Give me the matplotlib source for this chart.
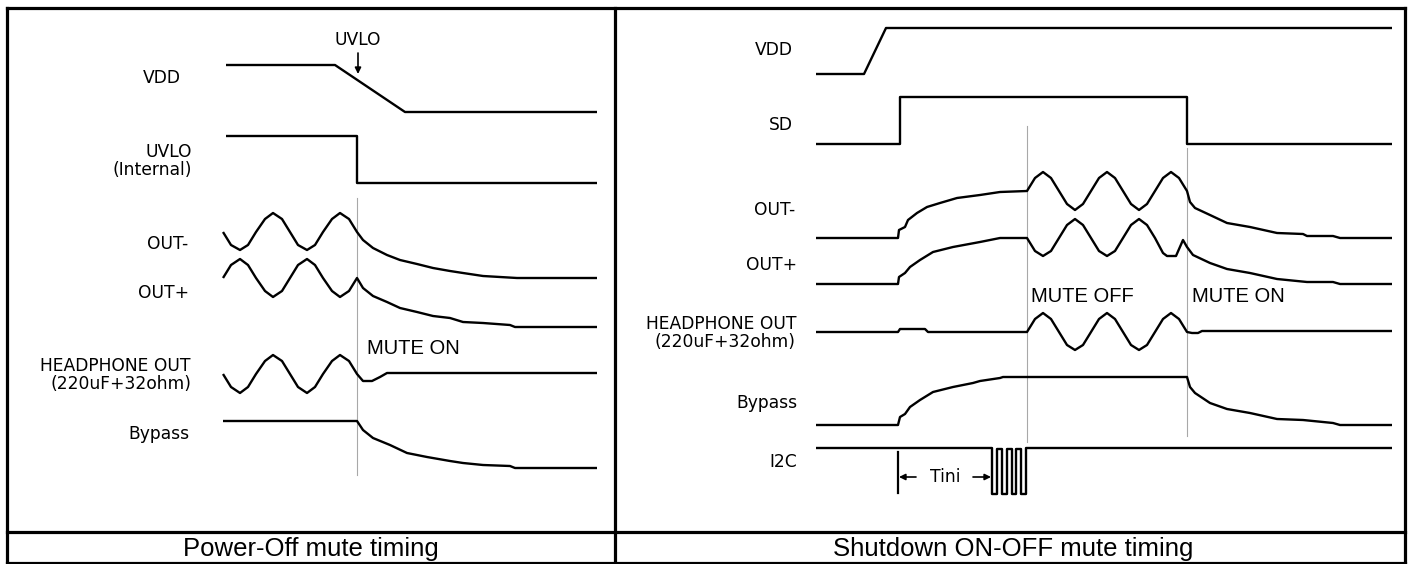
"""
Mute timing diagrams: Power-Off and Shutdown ON-OFF.
Drawn in pixel space on one full-figure axes (y grows downward).
"""

import matplotlib
matplotlib.use("Agg")
import matplotlib.pyplot as plt

# ── Figure / style ─────────────────────────────────────────────────────────────
W, H = 1413, 564
DPI = 100
WAVE_LW = 1.7
FRAME_LW = 2.3
MARK_LW = 0.8
MARK_COLOR = "#a8a8a8"
LABEL_FONT = "DejaVu Sans"
LABEL_SIZE = 12.3
MUTE_FONT = "Liberation Sans"
MUTE_SIZE = 14.5
CAPTION_SIZE = 18.5

# ── Left panel: Power-Off traces (x, y) ────────────────────────────────────────
L_VDD = [(226, 65), (335, 65), (405, 112), (597, 112)]
L_UVLO = [(226, 136), (357, 136), (357, 183), (597, 183)]
L_OUTM = [(223, 232), (231, 245), (240, 250), (248, 245), (256, 232), (265, 219),
          (273, 213), (282, 219), (290, 232), (298, 245), (307, 250), (315, 245),
          (323, 232), (332, 219), (340, 213), (349, 219), (357, 232), (363, 240),
          (373, 248), (387, 255), (400, 260), (417, 264), (433, 268), (450, 271),
          (463, 273), (483, 276), (500, 277), (517, 278), (597, 278)]
L_OUTP = [(223, 278), (231, 265), (240, 259), (248, 265), (256, 278), (265, 291),
          (273, 297), (282, 291), (290, 278), (298, 265), (307, 259), (315, 265),
          (323, 278), (332, 291), (340, 297), (349, 291), (357, 278), (363, 288),
          (373, 296), (387, 302), (400, 308), (417, 312), (433, 316), (450, 318),
          (463, 322), (483, 323), (510, 325), (515, 327), (597, 327)]
L_HP = [(223, 374), (231, 387), (240, 393), (248, 387), (256, 374), (265, 361),
        (273, 355), (282, 361), (290, 374), (298, 387), (307, 393), (315, 387),
        (323, 374), (332, 361), (340, 355), (349, 361), (357, 374), (363, 381),
        (372, 381), (380, 377), (387, 373), (597, 373)]
L_BYPASS = [(223, 421), (357, 421), (363, 430), (373, 438), (390, 445), (407, 453),
            (427, 457), (450, 461), (463, 463), (483, 465), (510, 466), (515, 468),
            (597, 468)]
L_MARKERS = [(357, 198, 475)]

L_LABELS = [("VDD", 181, 78), ("UVLO\n(Internal)", 192, 161), ("OUT-", 188, 244),
            ("OUT+", 189, 293), ("HEADPHONE OUT\n(220uF+32ohm)", 191, 375),
            ("Bypass", 189, 434)]

# ── Right panel: Shutdown ON-OFF traces (x, y) ─────────────────────────────────
R_VDD = [(816, 74), (864, 74), (886, 28), (1392, 28)]
R_SD = [(816, 144), (900, 144), (900, 97), (1187, 97), (1187, 144), (1392, 144)]
R_OUTM = [(816, 238), (898, 238), (899, 230), (905, 227), (908, 220), (917, 213),
          (927, 207), (940, 203), (957, 198), (980, 195), (1000, 192), (1027, 191),
          (1035, 178), (1043, 172), (1051, 178), (1059, 191), (1067, 204), (1075, 210),
          (1083, 204), (1091, 191), (1099, 178), (1107, 172), (1115, 178), (1123, 191),
          (1131, 204), (1139, 210), (1147, 204), (1155, 191), (1163, 178), (1171, 172),
          (1179, 178), (1187, 191), (1190, 202), (1195, 208), (1210, 215), (1227, 223),
          (1250, 227), (1277, 233), (1303, 234), (1307, 236), (1333, 236), (1340, 238),
          (1392, 238)]
R_OUTP = [(816, 284), (898, 284), (899, 277), (905, 273), (910, 267), (920, 260),
          (933, 252), (953, 247), (980, 242), (1000, 238), (1027, 238), (1035, 251),
          (1043, 256), (1051, 251), (1059, 238), (1067, 225), (1075, 219), (1083, 225),
          (1091, 238), (1099, 251), (1107, 256), (1115, 251), (1123, 238), (1131, 225),
          (1139, 219), (1147, 225), (1155, 238), (1163, 253), (1167, 256), (1176, 256),
          (1183, 240), (1187, 247), (1193, 255), (1210, 263), (1227, 269), (1250, 273),
          (1277, 279), (1307, 282), (1333, 282), (1340, 284), (1392, 284)]
R_HP = [(816, 332), (898, 332), (900, 329), (925, 329), (928, 332), (1027, 332),
        (1035, 319), (1043, 313), (1051, 319), (1059, 332), (1067, 345), (1075, 350),
        (1083, 345), (1091, 332), (1099, 319), (1107, 313), (1115, 319), (1123, 332),
        (1131, 345), (1139, 350), (1147, 345), (1155, 332), (1163, 319), (1171, 313),
        (1179, 319), (1187, 332), (1192, 333), (1198, 333), (1202, 331), (1392, 331)]
R_BYPASS = [(816, 425), (898, 425), (900, 417), (905, 414), (910, 407), (920, 400),
            (933, 392), (953, 387), (973, 383), (980, 381), (1000, 378), (1003, 377),
            (1187, 377), (1190, 387), (1195, 393), (1210, 403), (1227, 409), (1250, 413),
            (1277, 419), (1303, 420), (1333, 423), (1340, 425), (1392, 425)]
R_I2C = [(816, 448), (992, 448), (992, 494), (997, 494), (997, 449), (1002, 449),
         (1002, 494), (1007, 494), (1007, 449), (1012, 449), (1012, 494), (1016, 494),
         (1016, 449), (1021, 449), (1021, 494), (1026, 494), (1026, 448), (1392, 448)]
R_MARKERS = [(1027, 126, 442), (1187, 148, 436)]

R_LABELS = [("VDD", 793, 50), ("SD", 793, 125), ("OUT-", 795, 210), ("OUT+", 797, 265),
            ("HEADPHONE OUT\n(220uF+32ohm)", 796, 333), ("Bypass", 797, 403),
            ("I2C", 797, 462)]

CAPTIONS = [("Power-Off mute timing", 311, 549), ("Shutdown ON-OFF mute timing", 1013, 549)]


def draw_trace(ax, pts):
    xs = [p[0] for p in pts]
    ys = [p[1] for p in pts]
    ax.plot(xs, ys, color="black", linewidth=WAVE_LW, solid_joinstyle="round",
            solid_capstyle="butt")


def draw_markers(ax, markers):
    for x, y0, y1 in markers:
        ax.plot([x, x], [y0, y1], color=MARK_COLOR, linewidth=MARK_LW)


def draw_labels(ax, labels):
    for text, x, y in labels:
        ax.text(x, y, text, ha="right", va="center", family=LABEL_FONT,
                fontsize=LABEL_SIZE, multialignment="right", linespacing=1.05)


def main():
    fig = plt.figure(figsize=(W / DPI, H / DPI), dpi=DPI)
    ax = fig.add_axes([0, 0, 1, 1])
    ax.set_xlim(0, W)
    ax.set_ylim(H, 0)
    ax.axis("off")

    # ── Table frame ────────────────────────────────────────────────────────────
    x0, x1, xm = 7, 1405, 615
    y0, y1, ym = 8, 563, 532
    for xs, ys in (([x0, x1], [y0, y0]), ([x0, x1], [y1, y1]), ([x0, x0], [y0, y1]),
                   ([x1, x1], [y0, y1]), ([xm, xm], [y0, y1]), ([x0, x1], [ym, ym])):
        ax.plot(xs, ys, color="black", linewidth=FRAME_LW, solid_capstyle="projecting")

    # ── Left panel ─────────────────────────────────────────────────────────────
    draw_markers(ax, L_MARKERS)
    for tr in (L_VDD, L_UVLO, L_OUTM, L_OUTP, L_HP, L_BYPASS):
        draw_trace(ax, tr)
    draw_labels(ax, L_LABELS)
    ax.text(358, 40, "UVLO", ha="center", va="center", family=LABEL_FONT,
            fontsize=LABEL_SIZE)
    ax.annotate("", xy=(358, 74), xytext=(358, 53),
                arrowprops=dict(arrowstyle="-|>", color="black", lw=1.2,
                                mutation_scale=9, shrinkA=0, shrinkB=0))
    ax.text(367, 348, "MUTE ON", ha="left", va="center", family=MUTE_FONT,
            fontsize=MUTE_SIZE)

    # ── Right panel ────────────────────────────────────────────────────────────
    draw_markers(ax, R_MARKERS)
    for tr in (R_VDD, R_SD, R_OUTM, R_OUTP, R_HP, R_BYPASS, R_I2C):
        draw_trace(ax, tr)
    draw_labels(ax, R_LABELS)
    ax.text(1031, 296, "MUTE OFF", ha="left", va="center", family=MUTE_FONT,
            fontsize=MUTE_SIZE)
    ax.text(1192, 296, "MUTE ON", ha="left", va="center", family=MUTE_FONT,
            fontsize=MUTE_SIZE)

    # Tini interval
    ax.plot([898, 898], [452, 493], color="black", linewidth=1.6)
    arrow = dict(arrowstyle="-|>", color="black", lw=1.2, mutation_scale=9,
                 shrinkA=0, shrinkB=0)
    ax.annotate("", xy=(899, 477), xytext=(916, 477), arrowprops=arrow)
    ax.annotate("", xy=(991, 477), xytext=(973, 477), arrowprops=arrow)
    ax.text(945, 477, "Tini", ha="center", va="center", family=LABEL_FONT,
            fontsize=LABEL_SIZE)

    # ── Captions ───────────────────────────────────────────────────────────────
    for text, x, y in CAPTIONS:
        ax.text(x, y, text, ha="center", va="center", family="Liberation Sans",
                fontsize=CAPTION_SIZE)

    fig.savefig("out.png", dpi=DPI)
    plt.close(fig)


if __name__ == "__main__":
    main()
